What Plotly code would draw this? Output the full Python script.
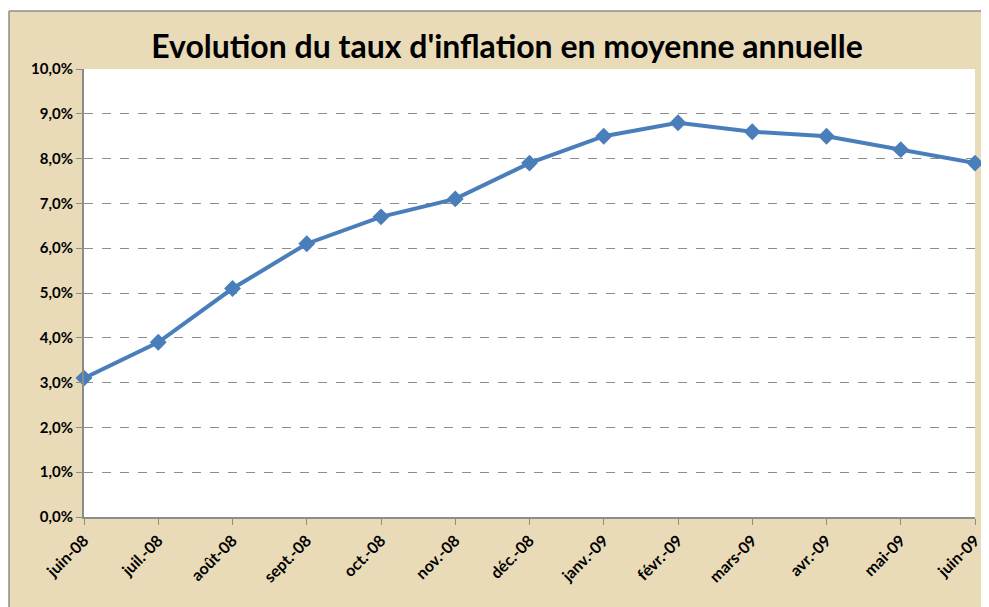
import plotly.graph_objects as go

months = ["juin-08", "juil.-08", "août-08", "sept.-08", "oct.-08", "nov.-08", "déc.-08",
          "janv.-09", "févr.-09", "mars-09", "avr.-09", "mai-09", "juin-09"]
inflation = [0.031, 0.039, 0.051, 0.061, 0.067, 0.071, 0.079,
             0.085, 0.088, 0.086, 0.085, 0.082, 0.079]
title_text = "Evolution du taux d'inflation en moyenne annuelle"

# page body has an 8px margin, so the figure starts at (8, 8)
W, H = 981, 599
L, T = 76, 61
R = W - (975 - 8)
B = H - (517 - 8)
pw, ph = W - L - R, H - T - B

FONT = "Lato, 'Open Sans', sans-serif"
GREY = "#8C8C8C"

fig = go.Figure()
fig.add_trace(go.Scatter(
    x=list(range(len(months))), y=inflation, mode="lines+markers",
    line=dict(color="#4A7EBB", width=4),
    marker=dict(symbol="diamond", size=13, color="#4A7EBB"),
    cliponaxis=False, hoverinfo="skip", showlegend=False,
))

# frame: white strips at top/left and grey border lines
fx0 = (1 - L) / pw
fy1 = (T + ph - 3) / ph
fig.add_shape(type="rect", xref="paper", yref="paper", layer="above",
              x0=-L / pw - 0.01, x1=(W - L) / pw + 0.01, y0=fy1, y1=(T + ph) / ph + 0.01,
              fillcolor="white", line=dict(width=0))
fig.add_shape(type="rect", xref="paper", yref="paper", layer="above",
              x0=-L / pw - 0.01, x1=fx0, y0=-B / ph - 0.01, y1=(T + ph) / ph + 0.01,
              fillcolor="white", line=dict(width=0))
fig.add_shape(type="line", xref="paper", yref="paper", layer="above",
              x0=fx0, x1=(W - L) / pw + 0.01, y0=fy1, y1=fy1,
              line=dict(color=GREY, width=1.5))
fig.add_shape(type="line", xref="paper", yref="paper", layer="above",
              x0=fx0, x1=fx0, y0=-B / ph - 0.01, y1=fy1,
              line=dict(color=GREY, width=1.5))

fig.update_layout(
    width=W, height=H,
    margin=dict(l=L, r=R, t=T, b=B, autoexpand=False),
    paper_bgcolor="#E9DBB8", plot_bgcolor="white",
    separators=", ",
    font=dict(family=FONT, color="black"),
    title=dict(text="<b>" + title_text + "</b>", x=499 / W, xanchor="center",
               y=1 - 39 / H, yanchor="middle", yref="container",
               font=dict(size=32, family=FONT, color="black")),
    xaxis=dict(
        tickmode="array", tickvals=list(range(len(months))), ticktext=months,
        range=[0, len(months) - 1], tickangle=-45, automargin=False,
        showgrid=False, zeroline=False,
        showline=True, linecolor=GREY, linewidth=2,
        ticks="outside", ticklen=6, tickcolor=GREY, tickwidth=1,
        tickfont=dict(size=16, family=FONT, weight="bold"),
    ),
    yaxis=dict(
        range=[0, 0.10], dtick=0.01, tick0=0, tickformat=".1%", automargin=False,
        showgrid=True, gridcolor=GREY, griddash="dash", gridwidth=1,
        zeroline=False, showline=True, linecolor=GREY, linewidth=2,
        ticks="outside", ticklen=6, tickcolor=GREY,
        tickfont=dict(size=15, family=FONT, weight="bold"),
    ),
)

fig.write_html("out.html")
